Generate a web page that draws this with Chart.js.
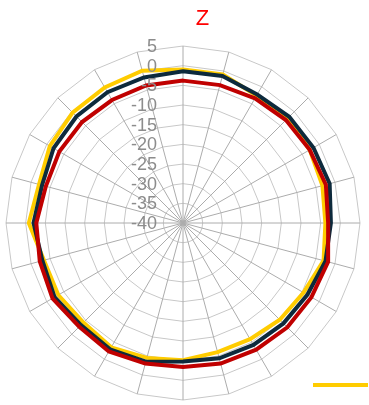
<!DOCTYPE html>
<html>
<head>
<meta charset="utf-8">
<style>
  html, body { margin: 0; padding: 0; background: #ffffff; }
  #wrap { width: 369px; height: 405px; position: relative; }
</style>
<script src="https://cdn.jsdelivr.net/npm/chart.js@4/dist/chart.umd.min.js"></script>
</head>
<body>
<div id="wrap"><canvas id="chart" width="369" height="405"></canvas></div>
<script>
// Bearing of each spoke (degrees, clockwise from top)
const angles = ['0','15','30','45','60','75','90','105','120','135','150','165',
                '180','195','210','225','240','255','270','285','300','315','330','345'];

// Level readings for each bearing
const seriesYellow = [-1.0, -0.9, -2.6, -2.2, -2.8, -3.3, -3.8, -3.0, -4.6, -5.2, -5.9, -6.0,
                      -5.1, -4.5, -3.5, -4.2, -3.4, -3.4, -0.8, -2.1, -0.9, -0.3, -0.2, 0.1];
const seriesNavy   = [-1.4, -1.3, -2.3, -1.8, -1.7, -1.4, -2.4, -2.5, -3.5, -3.9, -4.2, -4.4,
                      -4.8, -3.5, -2.9, -3.3, -2.3, -3.0, -2.0, -2.9, -2.0, -1.7, -1.6, -1.7];
const seriesRed    = [-3.8, -3.7, -3.4, -3.0, -2.8, -2.4, -3.1, -1.8, -2.3, -2.5, -2.8, -3.0,
                      -3.4, -3.0, -2.3, -2.7, -1.7, -2.3, -2.7, -3.9, -3.7, -3.7, -3.9, -3.8];

// Radial tick labels
const tickValues = [5, 0, -5, -10, -15, -20, -25, -30, -35, -40];

const titleText = 'Z';

// Title and radial tick labels drawn beside the vertical axis
const annotate = {
  id: 'annotate',
  afterDraw(chart) {
    const ctx = chart.ctx;
    const r = chart.scales.r;
    ctx.save();
    ctx.font = '18px "Liberation Sans", Arial, sans-serif';
    ctx.fillStyle = '#8c8c8c';
    ctx.textAlign = 'right';
    ctx.textBaseline = 'middle';
    tickValues.forEach(v => {
      const y = r.yCenter - r.getDistanceFromCenterForValue(v);
      ctx.fillText(String(v), r.xCenter - 26, y + 1);
    });

    ctx.font = '22px "Liberation Sans", Arial, sans-serif';
    ctx.fillStyle = '#ff0000';
    ctx.textAlign = 'center';
    ctx.fillText(titleText, 202.5, 19);

    // legend swatch for the first series
    ctx.strokeStyle = '#ffcc00';
    ctx.lineWidth = 4;
    ctx.beginPath();
    ctx.moveTo(313, 385);
    ctx.lineTo(368, 385);
    ctx.stroke();
    ctx.restore();
  }
};

const lineStyle = { fill: false, pointRadius: 0, pointHoverRadius: 0, borderWidth: 4, tension: 0 };

new Chart(document.getElementById('chart'), {
  type: 'radar',
  data: {
    labels: angles,
    datasets: [
      Object.assign({ label: 'Series 1', data: seriesYellow, borderColor: '#ffcc00', order: 3 }, lineStyle),
      Object.assign({ label: 'Series 2', data: seriesNavy, borderColor: '#0d2a3c', order: 2 }, lineStyle),
      Object.assign({ label: 'Series 3', data: seriesRed, borderColor: '#c00000', order: 1 }, lineStyle)
    ]
  },
  options: {
    responsive: false,
    animation: false,
    events: [],
    layout: { padding: { left: 6, right: 9, top: 46, bottom: 5 } },
    plugins: { legend: { display: false }, title: { display: false }, tooltip: { enabled: false } },
    scales: {
      r: {
        min: -40,
        max: 5,
        ticks: { display: false, stepSize: 5 },
        pointLabels: { display: false },
        grid: { circular: false, color: '#c8c8c8', lineWidth: 1 },
        angleLines: { color: '#acacac', lineWidth: 1 }
      }
    }
  },
  plugins: [annotate]
});
</script>
</body>
</html>
